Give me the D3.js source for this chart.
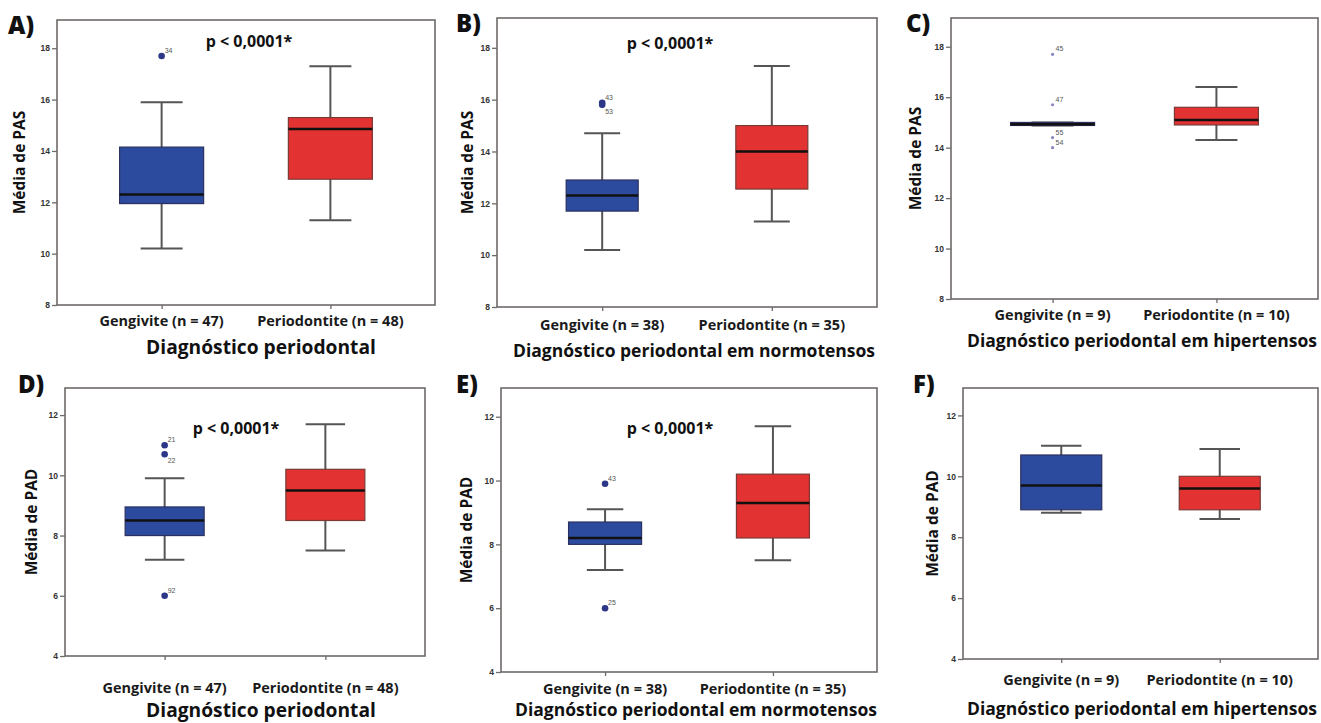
<!DOCTYPE html>
<html>
<head>
<meta charset="utf-8">
<script src="https://cdn.jsdelivr.net/npm/d3@7"></script>
<style>
  body { margin: 0; background: #fff; }
  svg { display: block; }
</style>
</head>
<body>
<div id="chart"></div>
<script>
// box stats: [min, q1, median, q3, max] for Gengivite, Periodontite
const statsA = [[10.2, 11.95, 12.3, 14.15, 15.9], [11.3, 12.9, 14.85, 15.3, 17.3]];
const statsB = [[10.2, 11.7, 12.3, 12.9, 14.7], [11.3, 12.55, 14.0, 15.0, 17.3]];
const statsC = [[14.88, 14.88, 14.93, 15.0, 15.0], [14.3, 14.9, 15.1, 15.6, 16.4]];
const statsD = [[7.2, 8.0, 8.5, 8.95, 9.9], [7.5, 8.5, 9.5, 10.2, 11.7]];
const statsE = [[7.2, 8.0, 8.2, 8.7, 9.1], [7.5, 8.2, 9.3, 10.2, 11.7]];
const statsF = [[8.8, 8.9, 9.7, 10.7, 11.0], [8.6, 8.9, 9.6, 10.0, 10.9]];

// outliers: [group index, value, case id]
const outA = [[0, 17.7, "34"]];
const outB = [[0, 15.88, "43"], [0, 15.8, "53"]];
const outC = [[0, 17.7, "45"], [0, 15.7, "47"], [0, 14.4, "55"], [0, 14.0, "54"]];
const outD = [[0, 11.0, "21"], [0, 10.7, "22"], [0, 6.0, "92"]];
const outE = [[0, 9.9, "43"], [0, 6.0, "25"]];
const outF = [];

const labelsAll = ["Gengivite (n = 47)", "Periodontite (n = 48)"];
const labelsNorm = ["Gengivite (n = 38)", "Periodontite (n = 35)"];
const labelsHyp = ["Gengivite (n = 9)", "Periodontite (n = 10)"];

const ticksPAS = [8, 10, 12, 14, 16, 18];
const ticksPAD = [4, 6, 8, 10, 12];

const colors = ["#2d4b9e", "#e23232"];

const width = 1321, height = 723;
const svg = d3.select("#chart").append("svg")
    .attr("width", width)
    .attr("height", height);

const panels = [
  {tag: "A)", stats: statsA, out: outA, labels: labelsAll, ticks: ticksPAS, top: 19.1, ytitle: "Média de PAS",
   xtitle: "Diagnóstico periodontal", p: true, x0: 57, x1: 435, y0: 20, y1: 305, boxW: 84,
   tagX: 8, tagY: 34, ytX: 20, labY: 326, titX: 261, titY: 354, titSize: 19.2, pX: 249, pY: 47, smallOut: false},
  {tag: "B)", stats: statsB, out: outB, labels: labelsNorm, ticks: ticksPAS, top: 19.15, ytitle: "Média de PAS",
   xtitle: "Diagnóstico periodontal em normotensos", p: true, x0: 497, x1: 877, y0: 18, y1: 307, boxW: 72,
   tagX: 456, tagY: 32, ytX: 468, labY: 330, titX: 694, titY: 357, titSize: 17.5, pX: 670, pY: 49, smallOut: false},
  {tag: "C)", stats: statsC, out: outC, labels: labelsHyp, ticks: ticksPAS, top: 19.14, ytitle: "Média de PAS",
   xtitle: "Diagnóstico periodontal em hipertensos", p: false, x0: 951, x1: 1318, y0: 18, y1: 299, boxW: 84,
   tagX: 906, tagY: 32, ytX: 916, labY: 320, titX: 1142, titY: 347, titSize: 17.5, smallOut: true},
  {tag: "D)", stats: statsD, out: outD, labels: labelsAll, ticks: ticksPAD, top: 12.9, ytitle: "Média de PAD",
   xtitle: "Diagnóstico periodontal", p: true, x0: 65, x1: 425, y0: 388, y1: 656, boxW: 79,
   tagX: 18, tagY: 393, ytX: 32, labY: 693, titX: 261, titY: 717, titSize: 19.2, pX: 236, pY: 434, smallOut: false},
  {tag: "E)", stats: statsE, out: outE, labels: labelsNorm, ticks: ticksPAD, top: 12.9, ytitle: "Média de PAD",
   xtitle: "Diagnóstico periodontal em normotensos", p: true, x0: 501, x1: 877, y0: 388, y1: 672, boxW: 73,
   tagX: 456, tagY: 393, ytX: 467, labY: 694, titX: 696, titY: 716, titSize: 17.5, pX: 670, pY: 434, smallOut: false},
  {tag: "F)", stats: statsF, out: outF, labels: labelsHyp, ticks: ticksPAD, top: 12.9, ytitle: "Média de PAD",
   xtitle: "Diagnóstico periodontal em hipertensos", p: false, x0: 963, x1: 1318, y0: 388, y1: 659, boxW: 81,
   tagX: 913, tagY: 393, ytX: 933, labY: 685, titX: 1142, titY: 715, titSize: 17.5, smallOut: false}
];

const font = "'Open Sans', sans-serif";

panels.forEach(pn => {
  const g = svg.append("g");
  const lo = pn.ticks[0];

  const xScale = d3.scalePoint()
      .domain([0, 1])
      .range([pn.x0, pn.x1])
      .padding(0.62);

  const yScale = d3.scaleLinear()
      .domain([lo, pn.top])
      .range([pn.y1, pn.y0]);

  // frame
  g.append("rect")
      .attr("x", pn.x0)
      .attr("y", pn.y0)
      .attr("width", pn.x1 - pn.x0)
      .attr("height", pn.y1 - pn.y0)
      .attr("fill", "none")
      .attr("stroke", "#6e6a68")
      .attr("stroke-width", 1.6);

  // y axis
  const yAxis = g.append("g")
      .attr("transform", `translate(${pn.x0},0)`)
      .call(d3.axisLeft(yScale).tickValues(pn.ticks).tickSize(5).tickPadding(2).tickFormat(d3.format("d")));
  yAxis.select(".domain").remove();
  yAxis.selectAll(".tick line").attr("stroke", "#6e6a68").attr("stroke-width", 1.3);
  yAxis.selectAll(".tick text")
      .attr("font-family", "Arial, 'Liberation Sans', sans-serif")
      .attr("font-size", 8.5)
      .attr("font-weight", "bold")
      .attr("fill", "#333");

  // x axis ticks
  const xAxis = g.append("g")
      .attr("transform", `translate(0,${pn.y1})`)
      .call(d3.axisBottom(xScale).tickSize(4).tickFormat(""));
  xAxis.select(".domain").remove();
  xAxis.selectAll(".tick line").attr("stroke", "#6e6a68").attr("stroke-width", 1.3);

  // category labels
  g.selectAll(".cat")
      .data(pn.labels)
      .enter().append("text")
      .attr("x", (d, i) => xScale(i))
      .attr("y", pn.labY)
      .attr("text-anchor", "middle")
      .attr("font-family", font)
      .attr("font-weight", "bold")
      .attr("font-size", 14.5)
      .attr("fill", "#1a1a1a")
      .text(d => d);

  // x title
  g.append("text")
      .attr("x", pn.titX)
      .attr("y", pn.titY)
      .attr("text-anchor", "middle")
      .attr("font-family", font)
      .attr("font-weight", "bold")
      .attr("font-size", pn.titSize)
      .attr("fill", "#111")
      .text(pn.xtitle);

  // y title
  g.append("text")
      .attr("transform", `translate(${pn.ytX},${(pn.y0 + pn.y1) / 2}) rotate(-90)`)
      .attr("text-anchor", "middle")
      .attr("dy", "0.35em")
      .attr("font-family", font)
      .attr("font-weight", "bold")
      .attr("font-size", 15.5)
      .attr("fill", "#111")
      .text(pn.ytitle);

  // panel tag
  g.append("text")
      .attr("x", pn.tagX)
      .attr("y", pn.tagY)
      .attr("font-family", font)
      .attr("font-weight", "800")
      .attr("font-size", 24)
      .attr("fill", "#111")
      .text(pn.tag);

  // p value
  if (pn.p) {
    g.append("text")
        .attr("x", pn.pX)
        .attr("y", pn.pY)
        .attr("text-anchor", "middle")
        .attr("font-family", font)
        .attr("font-weight", "bold")
        .attr("font-size", 16)
        .attr("fill", "#111")
        .text("p < 0,0001*");
  }

  // boxes
  pn.stats.forEach((s, i) => {
    const cx = xScale(i);
    const bw = pn.boxW;
    const cap = bw / 2;

    // whiskers
    g.append("line")
        .attr("x1", cx).attr("x2", cx)
        .attr("y1", yScale(s[0])).attr("y2", yScale(s[4]))
        .attr("stroke", "#555").attr("stroke-width", 2);
    [s[0], s[4]].forEach(v => {
      g.append("line")
          .attr("x1", cx - cap / 2).attr("x2", cx + cap / 2)
          .attr("y1", yScale(v)).attr("y2", yScale(v))
          .attr("stroke", "#555").attr("stroke-width", 2);
    });

    // iqr box
    g.append("rect")
        .attr("x", cx - bw / 2)
        .attr("y", yScale(s[3]))
        .attr("width", bw)
        .attr("height", yScale(s[1]) - yScale(s[3]))
        .attr("fill", colors[i])
        .attr("stroke", i === 0 ? "#2a3160" : "#7a3a36")
        .attr("stroke-width", 1.2);

    // median
    g.append("line")
        .attr("x1", cx - bw / 2).attr("x2", cx + bw / 2)
        .attr("y1", yScale(s[2])).attr("y2", yScale(s[2]))
        .attr("stroke", "#111").attr("stroke-width", 2.5);
  });

  // outliers
  pn.out.forEach((o, k) => {
    const cx = xScale(o[0]);
    const cy = yScale(o[1]);
    g.append("circle")
        .attr("cx", cx)
        .attr("cy", cy)
        .attr("r", pn.smallOut ? 1.6 : 3.3)
        .attr("fill", pn.smallOut ? "#8a86c0" : "#2e3688");
    // second of a close pair gets its label below
    const below = k > 0 && Math.abs(pn.out[k - 1][1] - o[1]) < 0.4 && pn.out[k - 1][0] === o[0];
    g.append("text")
        .attr("x", cx + 3)
        .attr("y", below ? cy + 9 : cy - 3)
        .attr("font-family", "Arial, 'Liberation Sans', sans-serif")
        .attr("font-size", 7)
        .attr("fill", "#555")
        .text(o[2]);
  });
});
</script>
</body>
</html>
